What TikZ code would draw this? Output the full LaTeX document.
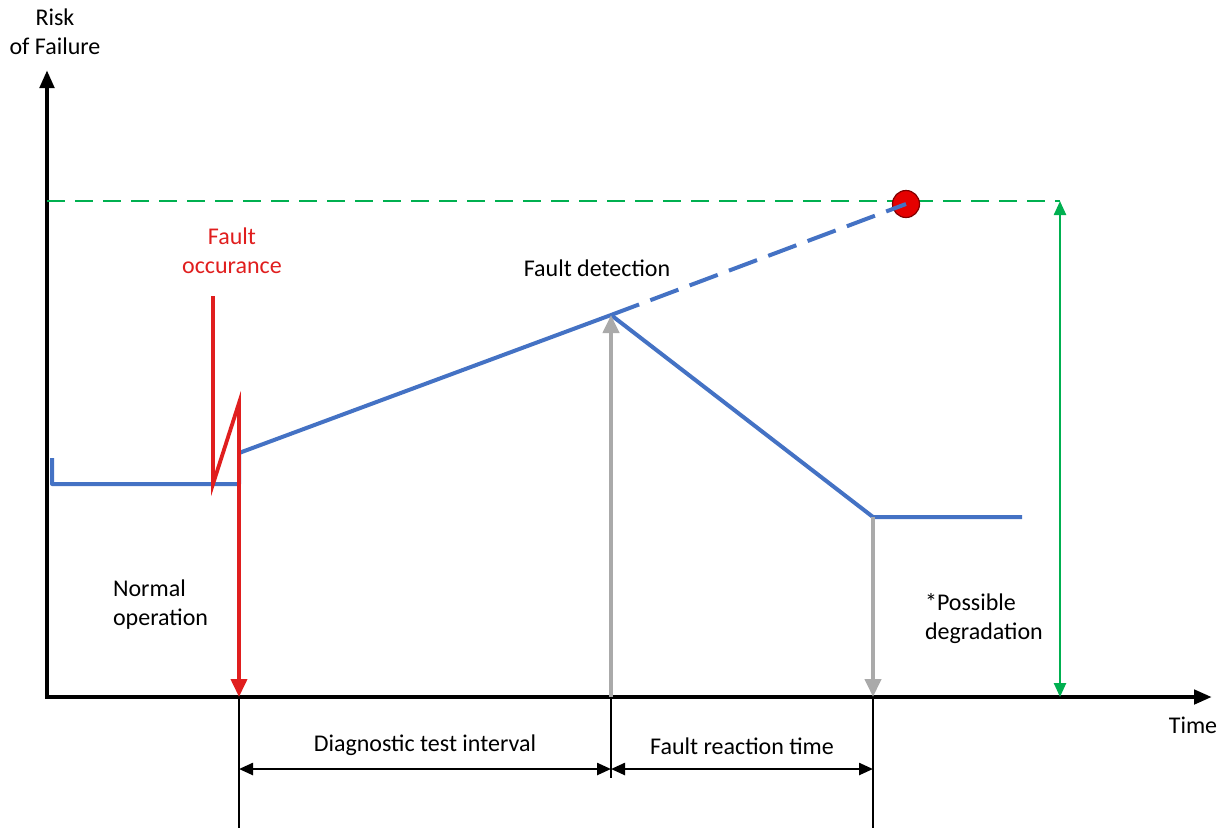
\documentclass[tikz,border=0pt]{standalone}
\usepackage{fontspec}
\setmainfont{Carlito}
\usetikzlibrary{arrows.meta}
\definecolor{riskblue}{RGB}{68,114,196}
\definecolor{faultred}{RGB}{224,30,30}
\definecolor{markgray}{RGB}{170,170,170}
\definecolor{limitgreen}{RGB}{0,176,80}

\begin{document}
\begin{tikzpicture}[
  x=0.5pt, y=-0.5pt,
  axis/.style={line width=2.3pt, -{Triangle[length=9pt,width=7pt]}},
  curve/.style={line width=2pt, riskblue, line join=round},
  dim/.style={line width=1.2pt, {Triangle[length=7pt,width=6pt]}-{Triangle[length=7pt,width=6pt]}},
  tick/.style={line width=1.2pt},
  lbl/.style={font=\fontsize{12}{14.5}\selectfont},
]
\useasboundingbox (0,0) rectangle (1226,832);

% === Axes ===
\coordinate (O) at (47,697);
\coordinate (xstart) at (45,697);
\coordinate (ytop) at (47,70);
\coordinate (xend) at (1212,697);
\draw[axis] (O) -- (ytop);
\draw[axis] (xstart) -- (xend);
\node[lbl, align=center] (ylab) at (55,32) {Risk\\of Failure};
\node[lbl] (xlab) at (1193,725) {Time};

% === Risk limit ===
\coordinate (limL) at (47,201);
\coordinate (limR) at (1060,201);
\coordinate (limB) at (1060,697);
\draw[limitgreen, line width=1.2pt, dash pattern=on 9pt off 5pt] (limL) -- (limR);
\draw[limitgreen, line width=1.2pt,
  {Triangle[length=7pt,width=6pt]}-{Triangle[length=7pt,width=6pt]}] (limB) -- (limR);
\node[draw=red!50!black, fill=red!90!black, circle, minimum size=13.5pt,
      inner sep=0pt, line width=0.6pt] (failpt) at (906,204) {};

% === Risk curve ===
\coordinate (n0) at (52,458);
\coordinate (n1) at (52,484);
\coordinate (n2) at (239,484);
\coordinate (n3) at (239,453);
\coordinate (det) at (611,315);
\coordinate (react) at (873,517);
\coordinate (n4) at (1022,517);
\draw[curve] (n0) -- (n1) -- (n2) -- (n3) -- (det) -- (react) -- (n4);
\draw[curve, dash pattern=on 15pt off 6pt] (det) -- (failpt.center);

% === Fault occurance ===
\coordinate (f0) at (213,296);
\coordinate (f1) at (213,484);
\coordinate (f2) at (239,403);
\coordinate (f3) at (239,697);
\draw[faultred, line width=1.9pt, line join=miter,
  -{Triangle[length=9pt,width=8pt]}] (f0) -- (f1) -- (f2) -- (f3);
\node[lbl, text=faultred, align=center] (occ) at (232,251) {Fault\\occurance};

% === Detection and reaction ===
\coordinate (d0) at (611,697);
\coordinate (r0) at (873,697);
\draw[markgray, line width=2pt, -{Triangle[length=9pt,width=8pt]}] (d0) -- (det);
\draw[markgray, line width=2pt, -{Triangle[length=9pt,width=8pt]}] (react) -- (r0);
\node[lbl] (detlab) at (597,268) {Fault detection};
\node[lbl, align=left, anchor=west] (normal) at (106,605) {Normal\\operation};
\node[lbl, align=left, anchor=west] (degr) at (918,619) {*Possible\\degradation};

% === Time intervals ===
\coordinate (t0) at (239,828);
\coordinate (t1) at (611,778);
\coordinate (t2) at (873,828);
\draw[tick] (f3) -- (t0);
\draw[tick] (d0) -- (t1);
\draw[tick] (r0) -- (t2);
\coordinate (a0) at (239,769);
\coordinate (a1) at (611,769);
\coordinate (a2) at (873,769);
\draw[dim] (a0) -- node[lbl, above=3pt] (dti) {Diagnostic test interval} (a1);
\draw[dim] (a1) -- node[lbl, above=3pt] (frt) {Fault reaction time} (a2);

\end{tikzpicture}
\end{document}
